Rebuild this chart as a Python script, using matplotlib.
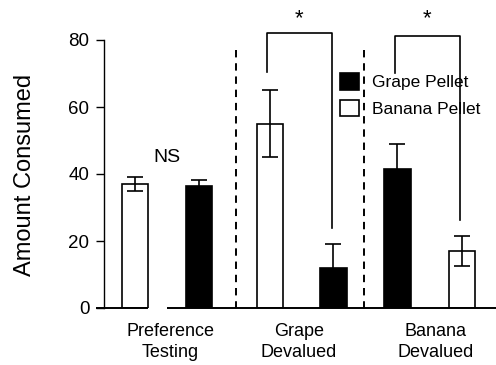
import matplotlib
matplotlib.use("Agg")
import matplotlib.pyplot as plt
from matplotlib.patches import Patch

plt.rcParams['font.family'] = ['Liberation Sans', 'DejaVu Sans']

# ---- data ----
groups = ["Preference\nTesting", "Grape\nDevalued", "Banana\nDevalued"]
series_names = ["Grape Pellet", "Banana Pellet"]
# bars in drawing order (left to right)
bar_series = ["Banana Pellet", "Grape Pellet", "Banana Pellet", "Grape Pellet", "Grape Pellet", "Banana Pellet"]
bar_values = [37.0, 36.5, 55.0, 12.0, 41.5, 17.0]
bar_errors = [2.0, 1.8, 10.0, 7.0, 7.5, 4.5]
sig_labels = ["NS", "*", "*"]
yticks = [0, 20, 40, 60, 80]

# ---- layout ----
bar_pos = [0.0, 1.0, 2.11, 3.10, 4.10, 5.11]
group_label_pos = [0.55, 2.56, 4.69]
divider_pos = [1.578, 3.578]
bar_width = 0.41
colors = {"Grape Pellet": "black", "Banana Pellet": "white"}

W, H = 496, 365
fig = plt.figure(figsize=(W / 100, H / 100), dpi=100)
ax_l, ax_r, ax_b, ax_t = 104, 496, 308, 6.5
ax = fig.add_axes([ax_l / W, (H - ax_b) / H, (ax_r - ax_l) / W, (ax_b - ax_t) / H])
ax.set_xlim(-0.484, 5.64)
ax.set_ylim(0, 90)

lw = 1.2
for x, s, v, e in zip(bar_pos, bar_series, bar_values, bar_errors):
    ax.bar(x, v, width=bar_width, color=colors[s], edgecolor='black', linewidth=lw, zorder=2)
    ax.errorbar(x, v, yerr=e, fmt='none', ecolor='black', elinewidth=lw, capsize=5.5, capthick=lw, zorder=3)

# baseline (broken)
ax.plot([-0.61, bar_pos[0] + bar_width / 2], [0, 0], color='black', lw=1.4, clip_on=False, zorder=4, solid_capstyle='butt')
ax.plot([0.5, 5.64], [0, 0], color='black', lw=1.4, clip_on=False, zorder=4, solid_capstyle='butt')

# dividers
ax.plot([divider_pos[0]] * 2, [77, 0], color='black', lw=1.4, ls=(0, (3.8, 3)), zorder=1)
ax.plot([divider_pos[1]] * 2, [77, -1.3], color='black', lw=1.4, ls=(0, (3.8, 3)), zorder=1, clip_on=False)

# significance
ax.text((bar_pos[0] + bar_pos[1]) / 2, 45, sig_labels[0], ha='center', va='center', fontsize=14)
brackets = [
    (2.06, 3.08, 82.1, 70.4, 23.9),
    (4.06, 5.08, 81.2, 70.1, 26.3),
]
for (xl, xr, top, yl, yr), lab in zip(brackets, sig_labels[1:]):
    ax.plot([xl, xl, xr, xr], [yl, top, top, yr], color='black', lw=1.2, zorder=1)
    ax.text((xl + xr) / 2, 86.5, lab, ha='center', va='center', fontsize=16)

# axes styling
for sp in ['top', 'right', 'bottom']:
    ax.spines[sp].set_visible(False)
ax.spines['left'].set_bounds(0, 80)
ax.spines['left'].set_linewidth(1.0)
ax.set_yticks(yticks)
ax.tick_params(axis='y', length=6, width=1.0, pad=4.5, labelsize=13.5)
ax.set_xticks(group_label_pos)
ax.set_xticklabels(groups, fontsize=13, linespacing=1.3)
ax.tick_params(axis='x', length=0, pad=11)
ax.set_ylabel("Amount Consumed", fontsize=17, va='center')
ax.yaxis.set_label_coords((25 - ax_l) / (ax_r - ax_l), (ax_b - 175) / (ax_b - ax_t))

handles = [Patch(facecolor=colors[n], edgecolor='black', linewidth=lw) for n in series_names]
leg = ax.legend(handles, series_names, loc='upper left', frameon=False, fontsize=12.5,
                handlelength=1.1, handleheight=1.1, handletextpad=0.75, labelspacing=0.55,
                borderpad=0, borderaxespad=0,
                bbox_to_anchor=((340 - ax_l) / (ax_r - ax_l), (ax_b - 73) / (ax_b - ax_t)))
leg.set_zorder(5)

fig.savefig("out.png", dpi=100)
